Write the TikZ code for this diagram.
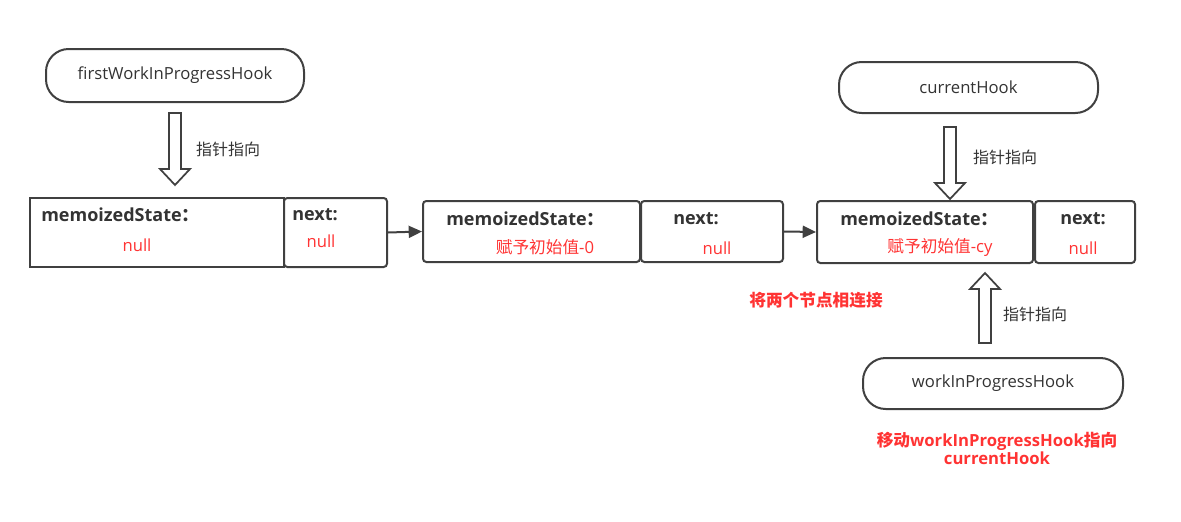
\documentclass[tikz,border=0pt]{standalone}
\usepackage{fontspec}
\setmainfont{Open Sans}
\newfontfamily\cjk{Noto Sans CJK SC}
\usetikzlibrary{arrows.meta,calc}
\definecolor{lc}{HTML}{404040}
\definecolor{tc}{HTML}{333333}
\definecolor{rc}{HTML}{FF3333}
\tikzset{
  cell/.style={draw=lc, line width=1.5pt, rounded corners=2.5pt, inner sep=0pt},
  sqcell/.style={draw=lc, line width=1.5pt, inner sep=0pt},
  pill/.style={draw=lc, line width=1.5pt, rounded corners=17pt, inner sep=0pt, text=tc, font=\fontsize{12.5}{15}\selectfont},
  lbl/.style={inner sep=0pt, text=tc, font=\fontsize{13.5}{16}\selectfont\bfseries},
  val/.style={inner sep=0pt, text=rc, font=\fontsize{12.5}{15}\selectfont},
  note/.style={inner sep=0pt, text=tc, font=\fontsize{12}{14}\selectfont\cjk},
  rednote/.style={inner sep=0pt, text=rc, font=\fontsize{12.5}{15}\selectfont\bfseries, align=center},
  link/.style={draw=lc, line width=1.5pt, -{Triangle[length=10pt,width=9pt]}},
  hollow/.style={draw=lc, line width=1.3pt, fill=white, line join=miter}
}
\newcommand\hollowarrow[3]{%
  \draw[hollow] ($(#1)+(-6,0)$) -- ($(#1)+(6,0)$) -- ($(#2)+(6,-16*#3)$) -- ($(#2)+(15,-16*#3)$) -- (#2) -- ($(#2)+(-15,-16*#3)$) -- ($(#2)+(-6,-16*#3)$) -- cycle;}
\begin{document}
\begin{tikzpicture}[x=0.75pt,y=-0.75pt]
\useasboundingbox[fill=white] (0,0) rectangle (1181,521);
% pills
\node[pill, minimum width=193.5pt, minimum height=39.75pt] (fw) at (175,75.5) {firstWorkInProgressHook};
\node[pill, minimum width=194.25pt, minimum height=38.25pt] (cur) at (968.5,87.5) {currentHook};
\node[pill, minimum width=195pt, minimum height=38.25pt] (wip) at (993,383.5) {workInProgressHook};
% boxes
\node[sqcell, minimum width=190.5pt, minimum height=51.75pt] (b1m) at (157,232.5) {};
\node[cell, minimum width=77.25pt, minimum height=51.75pt] (b1n) at (335.5,232.5) {};
\node[cell, minimum width=162.75pt, minimum height=45.75pt] (b2m) at (531.5,231.5) {};
\node[cell, minimum width=106.5pt, minimum height=45.75pt] (b2n) at (712,231.5) {};
\node[cell, minimum width=162pt, minimum height=46.5pt] (b3m) at (925,232) {};
\node[cell, minimum width=75pt, minimum height=46.5pt] (b3n) at (1085,232) {};
% texts
\node[lbl, anchor=west] (t1m) at (41,215) {memoizedState{\cjk ：}};
\node[val] (v1m) at (137,245) {null};
\node[lbl] (t1n) at (315,215) {next:};
\node[val] (v1n) at (321,241) {null};
\node[lbl, anchor=west] (t2m) at (446,219) {memoizedState{\cjk ：}};
\node[val] (v2m) at (545,247) {{\cjk 赋予初始值}-0};
\node[lbl] (t2n) at (696,219) {next:};
\node[val] (v2n) at (717,248) {null};
\node[lbl, anchor=west] (t3m) at (840,219) {memoizedState{\cjk ：}};
\node[val] (v3m) at (940,247) {{\cjk 赋予初始值}-cy};
\node[lbl] (t3n) at (1083,219) {next:};
\node[val] (v3n) at (1083,248) {null};
% links
\draw[link] (b1n.east) -- (b2m.west);
\draw[link] (b2n.east) -- (b3m.west);
% hollow arrows
\coordinate (a1s) at (175,113);
\coordinate (a1e) at (175,185);
\hollowarrow{a1s}{a1e}{1}
\coordinate (a2s) at (950,127);
\coordinate (a2e) at (950,199);
\hollowarrow{a2s}{a2e}{1}
\coordinate (a3s) at (985,343);
\coordinate (a3e) at (985,273);
\hollowarrow{a3s}{a3e}{-1}
\node[note] (n1) at (228,149) {指针指向};
\node[note] (n2) at (1005,157) {指针指向};
\node[note] (n3) at (1035,314) {指针指向};
\node[rednote] (r1) at (816,300) {\cjk 将两个节点相连接};
\node[rednote] (r2) at (997,448.5) {{\cjk 移动}workInProgressHook{\cjk 指向}\\[-1pt]currentHook};
\end{tikzpicture}
\end{document}
